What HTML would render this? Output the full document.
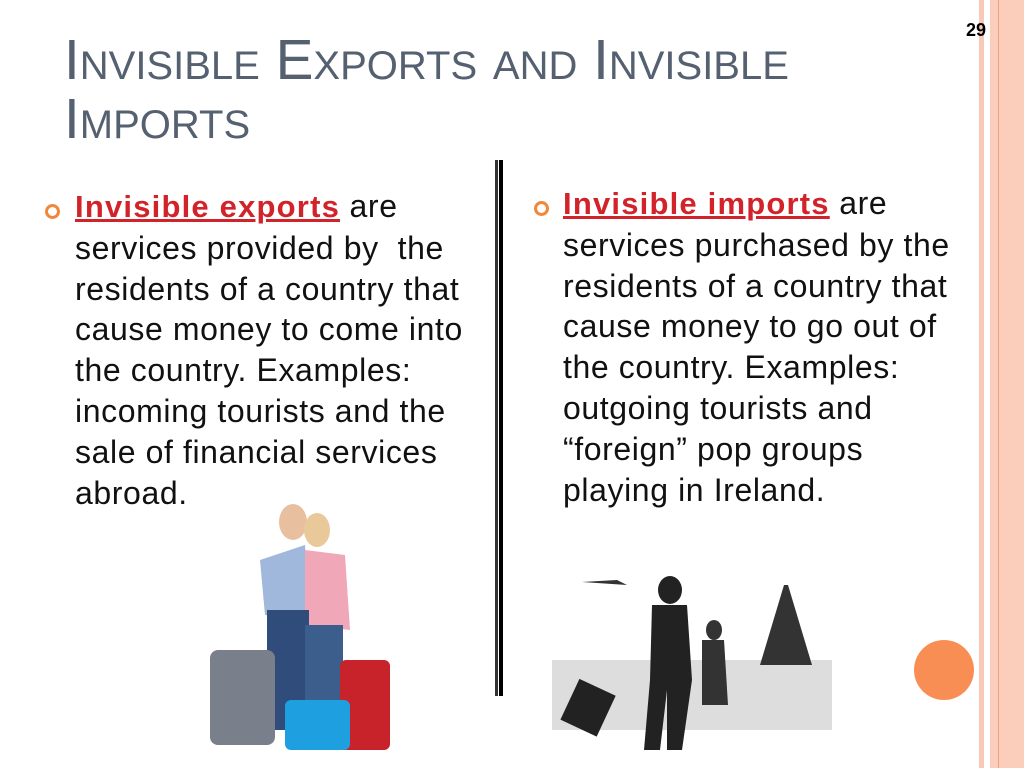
<!DOCTYPE html>
<html><head><meta charset="utf-8"><style>
body{margin:0;width:1024px;height:768px;position:relative;overflow:hidden;background:#fff;font-family:"Liberation Sans",sans-serif}
.abs{position:absolute}
.title{left:64px;top:31px;color:#556070;font-size:56.7px;line-height:59px;font-variant:small-caps;white-space:nowrap}
.txt{font-size:32px;letter-spacing:0.6px;line-height:40.8px;color:#111;white-space:nowrap}
.txt b{color:#d2232a;text-decoration:underline;font-weight:bold;font-size:31px;letter-spacing:1.2px}
.bul{width:9px;height:9px;border:3px solid #f0873a;border-radius:50%}
</style></head><body>
<div class="abs" style="left:979px;top:0;width:5px;height:768px;background:#f9c9b8"></div>
<div class="abs" style="left:990px;top:0;width:34px;height:768px;background:#fbcdbb"></div>
<div class="abs" style="left:998px;top:0;width:1px;height:768px;background:#ee9f85"></div>
<div class="abs" style="left:966px;top:20px;font-size:18px;font-weight:bold">29</div>
<div class="abs title">Invisible Exports and Invisible<br>Imports</div>
<div class="abs bul" style="left:45px;top:204px"></div>
<div class="abs txt" style="left:75px;top:186px"><b>Invisible exports</b> are<br>services provided by&nbsp; the<br>residents of a country that<br>cause money to come into<br>the country. Examples:<br>incoming tourists and the<br>sale of financial services<br>abroad.</div>
<div class="abs bul" style="left:534px;top:201px"></div>
<div class="abs txt" style="left:563px;top:183px"><b>Invisible imports</b> are<br>services purchased by the<br>residents of a country that<br>cause money to go out of<br>the country. Examples:<br>outgoing tourists and<br>“foreign” pop groups<br>playing in Ireland.</div>
<div class="abs" style="left:495px;top:160px;width:3px;height:536px;background:#333"></div>
<div class="abs" style="left:499px;top:160px;width:4px;height:536px;background:#000"></div>
<div class="abs" style="left:914px;top:640px;width:60px;height:60px;border-radius:50%;background:#f98e55"></div>
<svg class="abs" style="left:205px;top:500px" width="200" height="260">
<ellipse cx="88" cy="22" rx="14" ry="18" fill="#e8c0a0"/><ellipse cx="112" cy="30" rx="13" ry="17" fill="#e9c89a"/>
<path d="M55 60 L100 45 L105 120 L60 115Z" fill="#9fb8dc"/><path d="M100 50 L140 55 L145 130 L100 125Z" fill="#f0a8b8"/>
<rect x="62" y="110" width="42" height="120" fill="#2f4c7a"/><rect x="100" y="125" width="38" height="100" fill="#3b5e8c"/>
<rect x="5" y="150" width="65" height="95" rx="8" fill="#7a7f8c"/><rect x="135" y="160" width="50" height="90" rx="6" fill="#c8222a"/>
<rect x="80" y="200" width="65" height="50" rx="6" fill="#1ea0e0"/></svg>
<svg class="abs" style="left:552px;top:570px" width="280" height="195">
<rect x="0" y="90" width="280" height="70" fill="#ddd"/>
<path d="M30 12 L75 15 L65 10Z" fill="#333"/>
<ellipse cx="118" cy="20" rx="12" ry="14" fill="#222"/><path d="M100 35 L135 35 L140 110 L130 180 L115 180 L115 120 L108 180 L92 180 L98 110Z" fill="#222"/>
<rect x="15" y="115" width="40" height="45" transform="rotate(25 35 140)" fill="#222"/>
<ellipse cx="162" cy="60" rx="8" ry="10" fill="#333"/><path d="M150 70 L172 70 L176 135 L150 135Z" fill="#333"/>
<path d="M232 15 L236 15 L260 95 L208 95Z" fill="#333"/></svg>
</body></html>
